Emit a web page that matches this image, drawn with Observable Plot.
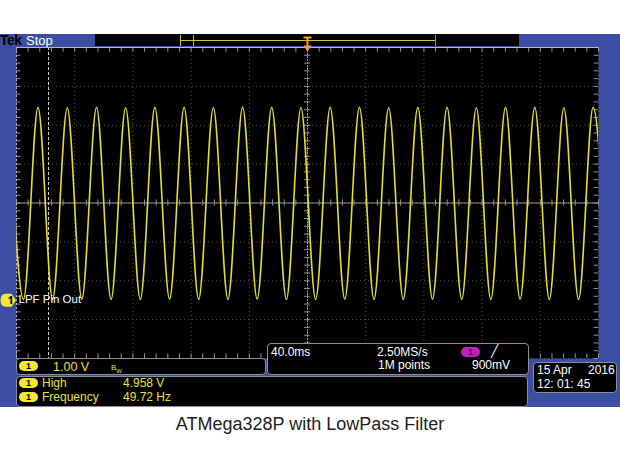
<!DOCTYPE html>
<html><head><meta charset="utf-8">
<script src="https://cdn.jsdelivr.net/npm/d3@7"></script>
<script src="https://cdn.jsdelivr.net/npm/@observablehq/plot@0.6"></script>
<style>
body{margin:0;background:#fff;}
#wrap{position:relative;width:620px;height:465px;overflow:hidden;font-family:"Liberation Sans",Arial,sans-serif;}
#scope{position:absolute;left:0;top:34px;width:620px;height:373px;background:#3b4ea3;}
#chart{position:absolute;left:0;top:0;}
.abs{position:absolute;}
.box{position:absolute;background:#000;border:1px solid #8d8d95;border-radius:4px;box-sizing:border-box;}
.t{position:absolute;font-size:12px;line-height:12px;white-space:pre;color:#fff;}
.y{color:#e8e23a;}
.pill{position:absolute;width:19px;height:10px;border-radius:5px;background:#f2e832;color:#000;font-size:9px;line-height:10px;text-align:center;font-weight:bold;}
#caption{position:absolute;left:0;top:414px;width:620px;text-align:center;font-size:18px;color:#222;font-family:"Liberation Sans",Arial,sans-serif;}
</style></head>
<body>
<div id="wrap">
  <div id="scope"></div>
  <div class="abs" style="left:95px;top:34px;width:424px;height:12px;background:#000;"></div>
  <div class="abs" style="left:180px;top:40px;width:255px;height:1px;background:#c9c140;"></div>
  <div class="abs" style="left:180px;top:35px;width:1px;height:11px;background:#c9c140;"></div>
  <div class="abs" style="left:193px;top:35px;width:1px;height:11px;background:#c9c140;"></div>
  <div class="abs" style="left:435px;top:35px;width:1px;height:11px;background:#8a8a8a;"></div>
  <div class="t" style="left:0px;top:33px;font-size:14px;line-height:14px;font-weight:bold;color:#000;letter-spacing:-0.5px;">Tek</div>
  <div class="t" style="left:26px;top:34px;font-size:13px;line-height:13px;">Stop</div>
  <div id="chart"></div>
  <div id="overlay"></div>
  <div id="caption"></div>
</div>
<script>
// ---- data ----
const divTimes = [0, 40, 80, 120, 160, 200, 240, 280, 320, 360, 400];          // ms (40 ms/div)
const divVolts = [-1.5, -0.5, 0.5, 1.5, 2.5, 3.5, 4.5, 5.5, 6.5];              // V (1 V/div)
const centerTime = 200, centerVolt = 2.5, triggerTime = 200, cursorTime = 22;
const peakTimes = [-5.3, 14.8, 34.9, 55.0, 75.0, 95.1, 115.2, 135.3, 155.4, 175.4, 195.5,
                   215.6, 235.7, 255.8, 275.8, 295.9, 316.0, 336.1, 356.2, 376.2, 396.3];
const peakVolts = [4.96, 4.96, 4.95, 4.96, 4.95, 4.96, 4.96, 4.95, 4.96, 4.96, 4.95,
                   4.96, 4.96, 4.95, 4.96, 4.96, 4.95, 4.96, 4.96, 4.95, 4.96];
const troughTimes = [4.8, 24.8, 44.9, 65.0, 85.1, 105.2, 125.2, 145.3, 165.4, 185.5, 205.6,
                     225.6, 245.7, 265.8, 285.9, 306.0, 326.0, 346.1, 366.2, 386.3, 406.4];
const troughVolts = [0.02, 0.02, 0.03, 0.02, 0.02, 0.03, 0.02, 0.02, 0.03, 0.02, 0.02,
                     0.03, 0.02, 0.02, 0.03, 0.02, 0.02, 0.03, 0.02, 0.02, 0.03];
const channelLabel = "LPF Pin Out";
const scaleText = "1.00 V";
const measNames = ["High", "Frequency"];
const measValues = ["4.958 V", "49.72 Hz"];
const horizText = ["40.0ms", "2.50MS/s", "1M points"];
const trigText = ["900mV"];
const dateText = ["15 Apr", "2016", "12: 01: 45"];
const captionText = "ATMega328P with LowPass Filter";

const trace = [
  ...peakTimes.map((t, i) => ({t, v: peakVolts[i]})),
  ...troughTimes.map((t, i) => ({t, v: troughVolts[i]}))
].sort((a, b) => a.t - b.t);

const minorTimes = d3.range(0, 400.001, 8);
const minorVolts = d3.range(-1.5, 6.5001, 0.2);

const pillSymbol = {draw(c) {
  c.moveTo(-3, -6.5); c.lineTo(3, -6.5); c.lineTo(7.5, 0); c.lineTo(3, 6.5); c.lineTo(-3, 6.5);
  c.quadraticCurveTo(-8, 6.5, -8, 0); c.quadraticCurveTo(-8, -6.5, -3, -6.5); c.closePath();
}};
const trigSymbol = {draw(c) {
  c.moveTo(-4, -8); c.lineTo(4, -8); c.lineTo(4, -6); c.lineTo(1, -6); c.lineTo(1, 1); c.lineTo(4, 1);
  c.lineTo(0, 7); c.lineTo(-4, 1); c.lineTo(-1, 1); c.lineTo(-1, -6); c.lineTo(-4, -6); c.closePath();
}};

const grid = "#565656", axisC = "#939393";
const chart = Plot.plot({
  width: 620, height: 410,
  marginLeft: 16, marginRight: 22, marginTop: 47, marginBottom: 52,
  x: {domain: [0, 400], axis: null},
  y: {domain: [-1.5, 6.5], axis: null},
  style: {background: "transparent", overflow: "visible"},
  marks: [
    Plot.frame({fill: "#000", stroke: null}),
    Plot.ruleX(divTimes, {stroke: grid, strokeDasharray: "1,3"}),
    Plot.ruleY(divVolts, {stroke: grid, strokeDasharray: "1,3"}),
    Plot.ruleX([centerTime], {stroke: axisC, strokeDasharray: "2,1"}),
    Plot.ruleY([centerVolt], {stroke: axisC}),
    Plot.ruleX(minorTimes, {y1: centerVolt - 0.08, y2: centerVolt + 0.08, stroke: axisC}),
    Plot.ruleX(minorTimes, {y1: 6.5, y2: 6.38, stroke: axisC}),
    Plot.ruleX(minorTimes, {y1: -1.5, y2: -1.38, stroke: axisC}),
    Plot.ruleY(minorVolts, {x1: centerTime - 2, x2: centerTime + 2, stroke: axisC}),
    Plot.ruleY(minorVolts, {x1: 0, x2: 3, stroke: axisC}),
    Plot.ruleY(minorVolts, {x1: 400, x2: 397, stroke: axisC}),
    Plot.ruleX([cursorTime], {stroke: "#d9d6a8", strokeDasharray: "3,2"}),
    Plot.line(trace, {x: "t", y: "v", curve: "monotone-x", stroke: "#e2de2e", strokeWidth: 1.6, clip: true}),
    Plot.ruleY([6.5], {stroke: "#b8b8c8"}),
    Plot.ruleX([0], {stroke: "#b0b0b0", strokeDasharray: "2,2"}),
    Plot.dot([0], {y: d => d, frameAnchor: "left", dx: -8, symbol: pillSymbol, fill: "#f2e832", stroke: null}),
    Plot.text([0], {y: d => d, frameAnchor: "left", dx: -9, text: () => "1", fill: "#000", fontSize: 11, fontWeight: "bold"}),
    Plot.text([channelLabel], {y: () => 0, frameAnchor: "left", textAnchor: "start", dx: 2, dy: -1, text: d => d, fill: "#fff", fontSize: 11.5, fontFamily: "Liberation Sans"}),
    Plot.dot([triggerTime], {x: d => d, frameAnchor: "top", dy: -3, symbol: trigSymbol, fill: "#f0a22a", stroke: null})
  ]
});
document.getElementById("chart").appendChild(chart);

// ---- readout panels ----
const ov = document.getElementById("overlay");
function add(html) { ov.insertAdjacentHTML("beforeend", html); }
add(`<div class="box" style="left:16px;top:358px;width:250px;height:17px;"></div>`);
add(`<div class="pill" style="left:19px;top:361px;">1</div>`);
add(`<div class="t y" style="left:53px;top:361px;font-size:12.5px;">${scaleText}</div>`);
add(`<div class="t y" style="left:111px;top:362px;font-size:8px;">B<sub style="font-size:6px">W</sub></div>`);
add(`<div class="box" style="left:16px;top:376px;width:512px;height:31px;"></div>`);
measNames.forEach((n, i) => {
  const top = 378 + i * 14;
  add(`<div class="pill" style="left:19px;top:${top}px;">1</div>`);
  add(`<div class="t y" style="left:42px;top:${top - 1}px;">${n}</div>`);
  add(`<div class="t y" style="left:123px;top:${top - 1}px;">${measValues[i]}</div>`);
});
add(`<div class="box" style="left:267px;top:343px;width:262px;height:32px;"></div>`);
add(`<div class="t" style="left:271px;top:346px;">${horizText[0]}</div>`);
add(`<div class="t" style="left:377px;top:346px;">${horizText[1]}</div>`);
add(`<div class="t" style="left:378px;top:359px;">${horizText[2]}</div>`);
add(`<div class="pill" style="left:461px;top:347px;background:#c020c0;color:#5a0a5a;">1</div>`);
add(`<div class="t" style="left:491px;top:345px;">&#x2571;</div>`);
add(`<div class="t" style="left:472px;top:359px;">${trigText[0]}</div>`);
add(`<div class="box" style="left:533px;top:362px;width:84px;height:31px;"></div>`);
add(`<div class="t" style="left:537px;top:364px;">${dateText[0]}</div>`);
add(`<div class="t" style="left:588px;top:364px;">${dateText[1]}</div>`);
add(`<div class="t" style="left:537px;top:378px;">${dateText[2]}</div>`);
document.getElementById("caption").textContent = captionText;
</script>
</body></html>
